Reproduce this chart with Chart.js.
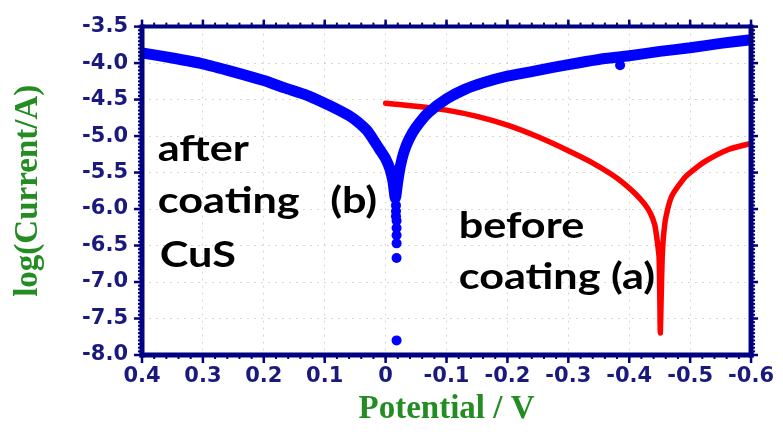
<!DOCTYPE html>
<html>
<head>
<meta charset="utf-8">
<script src="https://cdn.jsdelivr.net/npm/chart.js@4.4.1/dist/chart.umd.min.js"></script>
<style>
    html, body { margin: 0; padding: 0; background: #fff; }
    #wrap { width: 783px; height: 432px; }
</style>
</head>
<body>
<div id="wrap"><canvas id="tafelChart"></canvas></div>
<script>
// after coating CuS (b) — blue
const blueV    = [0.40, 0.35, 0.30, 0.25, 0.20, 0.166, 0.13, 0.10, 0.08, 0.06, 0.045, 0.031, 0.02, 0.01, 0.0, -0.007, -0.012, -0.016, -0.02, -0.024, -0.03, -0.038, -0.05, -0.07, -0.10, -0.13, -0.16, -0.20, -0.25, -0.30, -0.35, -0.40, -0.45, -0.50, -0.55, -0.60];
const blueLogI = [-3.86, -3.93, -4.01, -4.12, -4.24, -4.34, -4.44, -4.55, -4.63, -4.72, -4.81, -4.92, -5.05, -5.18, -5.31, -5.45, -5.62, -5.85, -5.62, -5.42, -5.22, -5.05, -4.88, -4.68, -4.49, -4.36, -4.27, -4.18, -4.10, -4.02, -3.95, -3.90, -3.84, -3.79, -3.73, -3.68];
// loose points under the blue dip
const dotV     = [-0.017, -0.017, -0.017, -0.018, -0.018, -0.018, -0.018, -0.018, -0.018, -0.385];
const dotLogI  = [-5.95, -6.03, -6.10, -6.16, -6.26, -6.36, -6.47, -6.67, -7.80, -4.03];
// before coating (a) — red
const redV     = [0.0, -0.05, -0.10, -0.15, -0.20, -0.25, -0.30, -0.336, -0.37, -0.39, -0.41, -0.425, -0.435, -0.442, -0.446, -0.449, -0.4502, -0.451, -0.4525, -0.454, -0.456, -0.46, -0.47, -0.49, -0.50, -0.526, -0.564, -0.60];
const redLogI  = [-4.55, -4.59, -4.645, -4.73, -4.85, -5.01, -5.20, -5.35, -5.52, -5.64, -5.79, -5.93, -6.06, -6.22, -6.44, -6.66, -7.20, -7.70, -7.20, -6.70, -6.40, -6.12, -5.82, -5.58, -5.50, -5.34, -5.18, -5.10];

const xTickValues = [0.4, 0.3, 0.2, 0.1, 0, -0.1, -0.2, -0.3, -0.4, -0.5, -0.6];
const yTickValues = [-3.5, -4.0, -4.5, -5.0, -5.5, -6.0, -6.5, -7.0, -7.5, -8.0];

const NAVY = '#000080';
const GREEN = '#238c23';
const TICK_TXT = '#1a1a7e';

const toPoints = (xs, ys) => xs.map((x, i) => ({ x, y: ys[i] }));

// frame, tick marks (major + minor) and the in-plot notes
const framePlugin = {
    id: 'frame',
    afterDraw(chart) {
        const { ctx, chartArea: a, scales: { x, y } } = chart;
        ctx.save();
        ctx.strokeStyle = NAVY;
        ctx.lineCap = 'butt';

        const tick = (x1, y1, x2, y2, w) => {
            ctx.lineWidth = w;
            ctx.beginPath(); ctx.moveTo(x1, y1); ctx.lineTo(x2, y2); ctx.stroke();
        };
        // minor ticks
        for (let v = -0.6; v <= 0.4001; v += 0.02) {
            const px = x.getPixelForValue(v);
            tick(px, a.bottom, px, a.bottom + 4, 2);
            tick(px, a.top, px, a.top - 4, 2);
        }
        for (let v = -8; v <= -3.4999; v += 0.05) {
            const py = y.getPixelForValue(v);
            tick(a.left, py, a.left - 4, py, 2);
            tick(a.right, py, a.right + 4, py, 2);
        }
        // major ticks
        xTickValues.forEach(v => {
            const px = x.getPixelForValue(v);
            tick(px, a.bottom, px, a.bottom + 8, 2.5);
            tick(px, a.top, px, a.top - 7, 2.5);
        });
        yTickValues.forEach(v => {
            const py = y.getPixelForValue(v);
            tick(a.left, py, a.left - 8, py, 2.5);
            tick(a.right, py, a.right + 7, py, 2.5);
        });
        // frame
        tick(a.left, a.top - 2, a.left, a.bottom + 2.5, 5);
        tick(a.left - 2.5, a.bottom, a.right + 2.5, a.bottom, 5);
        tick(a.right, a.top - 2, a.right, a.bottom + 2.5, 5);
        tick(a.left, a.top, a.right, a.top, 4);

        // notes
        ctx.fillStyle = '#000';
        ctx.font = 'bold 36px Lato';
        ctx.textBaseline = 'alphabetic';
        const note = (txt, xv, yv) => {
            ctx.save();
            ctx.translate(x.getPixelForValue(xv), y.getPixelForValue(yv));
            ctx.scale(1.2, 1);
            ctx.fillText(txt, 0, 0);
            ctx.restore();
        };
        note('after', 0.374, -5.34);
        note('coating', 0.374, -6.05);
        note('CuS', 0.371, -6.80);
        note('(b)', 0.091, -6.05);
        note('before', -0.12, -6.39);
        note('coating (a)', -0.12, -7.09);
        ctx.restore();
    }
};

new Chart(document.getElementById('tafelChart'), {
    type: 'scatter',
    data: {
        datasets: [
            {
                label: 'after coating CuS (b)',
                data: toPoints(blueV, blueLogI),
                showLine: true,
                borderColor: '#0000ff',
                borderWidth: 11,
                borderJoinStyle: 'round',
                borderCapStyle: 'round',
                pointRadius: 0,
                tension: 0.2
            },
            {
                label: 'after coating CuS (b) points',
                data: toPoints(dotV, dotLogI),
                showLine: false,
                backgroundColor: '#0000ff',
                borderWidth: 0,
                pointRadius: 5
            },
            {
                label: 'before coating (a)',
                data: toPoints(redV, redLogI),
                showLine: true,
                borderColor: '#ff0000',
                borderWidth: 5.5,
                borderJoinStyle: 'round',
                borderCapStyle: 'round',
                pointRadius: 0,
                tension: 0.2
            }
        ]
    },
    options: {
        responsive: true,
        maintainAspectRatio: false,
        animation: false,
        layout: { padding: { left: 0, right: 23, top: 25, bottom: 0 } },
        plugins: {
            legend: { display: false },
            tooltip: { enabled: false }
        },
        scales: {
            x: {
                type: 'linear',
                reverse: true,
                min: -0.6,
                max: 0.4,
                afterBuildTicks: s => { s.ticks = xTickValues.map(v => ({ value: v })); },
                afterFit: s => { s.height = 77; },
                grid: { color: '#d8d8c4', lineWidth: 1, drawTicks: false },
                border: { display: false, dash: [2, 5] },
                ticks: {
                    color: TICK_TXT,
                    padding: 9,
                    maxRotation: 0,
                    autoSkip: false,
                    font: { family: 'DejaVu Sans', size: 21, weight: 'bold' },
                    callback: v => Math.abs(v) < 1e-9 ? '0' : v.toFixed(1)
                },
                title: {
                    display: true,
                    text: 'Potential / V',
                    color: GREEN,
                    font: { family: 'Liberation Serif', size: 33, weight: 'bold' },
                    padding: { top: 0, bottom: 3 }
                }
            },
            y: {
                type: 'linear',
                min: -8,
                max: -3.5,
                afterBuildTicks: s => { s.ticks = yTickValues.map(v => ({ value: v })); },
                afterFit: s => { s.width = 142; },
                grid: { color: '#d8d8c4', lineWidth: 1, drawTicks: false },
                border: { display: false, dash: [2, 5] },
                ticks: {
                    color: TICK_TXT,
                    padding: 14,
                    autoSkip: false,
                    font: { family: 'DejaVu Sans', size: 21, weight: 'bold' },
                    callback: v => v.toFixed(1)
                },
                title: {
                    display: true,
                    text: 'log(Current/A)',
                    color: GREEN,
                    font: { family: 'Liberation Serif', size: 33, weight: 'bold' },
                    padding: { top: 9, bottom: 0 }
                }
            }
        }
    },
    plugins: [framePlugin]
});
</script>
</body>
</html>
